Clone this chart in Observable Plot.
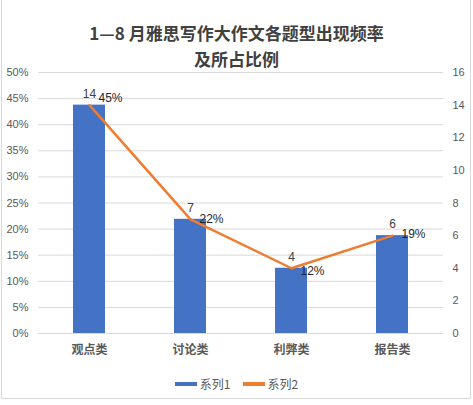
<!DOCTYPE html>
<html>
<head>
<meta charset="utf-8">
<script src="https://cdn.jsdelivr.net/npm/d3@7"></script>
<script src="https://cdn.jsdelivr.net/npm/@observablehq/plot@0.6"></script>
<style>
  html, body { margin: 0; padding: 0; background: #fff; }
  #wrap { position: relative; width: 473px; height: 405px; font-family: "Liberation Sans", Arial, sans-serif; }
  #frame { position: absolute; left: 1px; top: 0; width: 470px; height: 399px; border: 1px solid #d9d9d9; border-top: none; box-sizing: border-box; pointer-events: none; }
  #title { position: absolute; left: 0; width: 473px; top: 20px; text-align: center; font-family: "Noto Sans CJK SC", sans-serif; font-weight: bold; font-size: 17px; line-height: 26px; color: #404040; }
  #legend { position: absolute; left: 0; width: 473px; top: 375px; display: flex; justify-content: center; align-items: center; font-family: "Noto Sans CJK SC", sans-serif; font-size: 12px; color: #595959; }
  .sw { display: inline-block; width: 22px; height: 4px; margin-right: 3px; }
  .item { display: flex; align-items: center; margin: 0 6px; }
  #chart { position: absolute; left: 0; top: 0; }
</style>
</head>
<body>
<div id="wrap">
  <div id="chart"></div>
  <div id="title">1—8 月雅思写作大作文各题型出现频率<br>及所占比例</div>
  <div id="legend">
    <span class="item"><span class="sw" style="background:#4472C4"></span>系列1</span>
    <span class="item"><span class="sw" style="background:#ED7D31"></span>系列2</span>
  </div>
  <div id="frame"></div>
</div>
<script>
const categories = ["观点类", "讨论类", "利弊类", "报告类"];
const series1 = [0.4375, 0.21875, 0.125, 0.1875];      // share (left axis)
const series2 = [14, 7, 4, 6];                          // count (right axis)
const pctLabels = ["45%", "22%", "12%", "19%"];
const pctLabelValues = [0.45, 0.22, 0.12, 0.19];
const leftTicks = d3.range(0, 11).map(i => i * 0.05);
const rightTicks = [0, 2, 4, 6, 8, 10, 12, 14, 16];
const rightMax = 16, leftMax = 0.5;
const toLeft = v => v / rightMax * leftMax;

const data = categories.map((c, i) => ({
  cat: c, share: series1[i], count: series2[i], label: pctLabels[i], labelY: pctLabelValues[i]
}));

const chart = Plot.plot({
  width: 473,
  height: 405,
  marginTop: 72,
  marginBottom: 72,
  marginLeft: 38,
  marginRight: 30,
  style: { fontFamily: "Liberation Sans, Arial, sans-serif", background: "transparent" },
  x: { domain: categories, paddingInner: 0.68, paddingOuter: 0.34, label: null },
  y: { domain: [0, leftMax], label: null },
  marks: [
    Plot.gridY(leftTicks, { stroke: "#d9d9d9", strokeOpacity: 1, strokeWidth: 1 }),
    Plot.axisY(leftTicks, { anchor: "left", tickSize: 0, tickPadding: 10, tickFormat: d3.format(".0%"), fontSize: 11, fill: "#595959", label: null }),
    Plot.axisY(rightTicks.map(toLeft), { anchor: "right", tickSize: 0, tickPadding: 9, tickFormat: d => Math.round(d / leftMax * rightMax), fontSize: 11, fill: "#595959", textAnchor: "start", label: null }),
    Plot.axisX({ tickSize: 0, tickPadding: 12, fontSize: 12, fontWeight: "bold", fill: "#595959", fontFamily: "Noto Sans CJK SC, sans-serif", label: null }),
    Plot.barY(data, { x: "cat", y: "share", fill: "#4472C4" }),
    Plot.line(data, { x: "cat", y: d => toLeft(d.count), stroke: "#ED7D31", strokeWidth: 2.5, strokeLinejoin: "round" }),
    Plot.text(data, { x: "cat", y: d => toLeft(d.count), text: d => String(d.count), dy: -11, fontSize: 12, fill: "#404040" }),
    Plot.text(data, { x: "cat", y: "labelY", text: "label", dx: 9, textAnchor: "start", fontSize: 12, fill: "#262626" })
  ]
});
document.getElementById("chart").appendChild(chart);
</script>
</body>
</html>
